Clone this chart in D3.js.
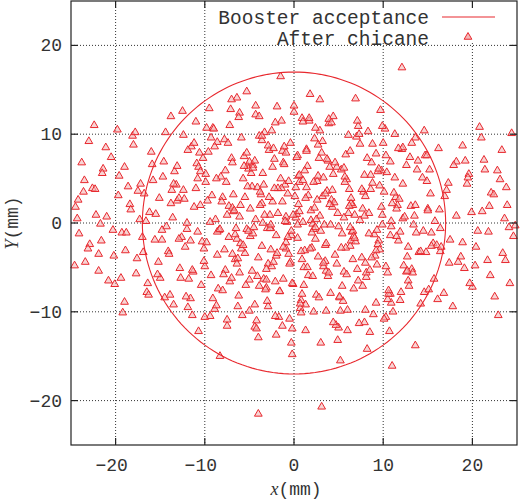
<!DOCTYPE html>
<html><head><meta charset="utf-8">
<script src="https://cdn.jsdelivr.net/npm/d3@7"></script>
<style>body{margin:0;background:#fff}</style></head>
<body><svg id="c" width="520" height="499"></svg>
<script>
const xTicks=[-20,-10,0,10,20];
const yTicks=[-20,-10,0,10,20];
const acceptanceRadius=17;
const legendLabels=["Booster acceptance","After chicane"];
const ptsX=[12.1,-4.0,3.1,-1.5,-5.3,-6.4,-7.0,-4.3,1.8,-9.5,9.7,-12.5,
-24.5,-23.8,-24.1,-22.6,-21.9,-23.0,-24.6,-22.2,-21.4,-20.8,-23.5,-22.9,-24.2,-21.1,-20.3,-19.6,-19.0,-18.4,-19.8,-18.9,-20.5,-17.7,-18.1,-17.3,-16.8,-19.2,-20.1,-21.6,-22.4,-16.5,-15.9,-17.0,-18.6,
23.9,24.6,22.8,21.7,23.3,24.2,22.1,21.0,20.4,23.6,22.5,24.8,21.3,20.0,19.4,18.7,20.8,19.9,18.2,17.8,19.1,21.9,22.9,23.1,18.9,17.5,16.9,20.6,19.6,24.4,
-15.2,-14.6,-13.9,-13.1,-12.4,-11.8,-11.0,-10.3,-9.6,-8.9,-8.2,-7.5,-6.8,-6.1,-5.4,-4.7,-4.0,-3.3,-2.6,-1.9,-1.2,-0.5,0.2,0.9,1.6,2.3,3.0,3.7,4.4,5.1,5.8,6.5,7.2,7.9,8.6,9.3,10.0,10.7,11.4,12.1,12.8,13.5,14.2,14.9,15.6,16.3,
-15.5,-14.1,-13.4,-12.0,-11.3,-10.6,-9.2,-8.5,-7.8,-6.4,-5.7,-5.0,-3.6,-2.9,-2.2,-0.8,-0.1,0.6,2.0,2.7,3.4,4.8,5.5,6.2,7.6,8.3,9.0,10.4,11.1,11.8,13.2,13.9,14.6,15.3,16.0,
-14.8,-13.7,-12.7,-11.5,-10.1,-9.9,-8.7,-7.3,-6.6,-5.2,-4.5,-3.9,-3.1,-2.4,-1.7,-1.0,-0.3,0.4,1.1,1.9,2.5,3.2,3.9,4.6,5.3,6.0,6.8,7.4,8.1,8.8,9.5,10.2,10.9,11.6,12.3,13.0,13.7,14.4,15.1,15.8,
-15.8,-14.3,-12.9,-11.6,-10.9,-9.8,-8.6,-7.7,-6.9,-6.2,-5.5,-4.8,-4.2,-3.5,-2.8,-2.1,-1.4,-0.7,0.0,0.7,1.4,2.1,2.8,3.5,4.2,4.9,5.6,6.3,7.0,7.7,8.4,9.1,9.8,10.5,11.2,11.9,12.6,13.3,14.0,14.7,15.4,
-13.2,-11.9,-10.5,-9.1,-7.9,-6.7,-5.9,-5.1,-4.4,-3.7,-3.0,-2.3,-1.6,-0.9,-0.2,0.5,1.2,1.7,2.4,3.1,3.8,4.5,5.2,5.9,6.6,7.3,8.0,8.7,9.4,10.1,10.8,11.5,12.2,12.9,13.6,
-12.2,-10.8,-9.4,-8.0,-7.1,-6.3,-5.6,-4.9,-4.1,-3.4,-2.7,-2.0,-1.3,-0.6,0.1,0.8,1.5,2.2,2.9,3.6,4.3,5.0,5.7,6.4,7.1,7.8,8.5,9.2,9.9,10.6,11.3,12.7,
-16.2,-15.0,-13.5,-12.6,-11.2,-10.0,-8.8,-7.4,-6.0,-4.6,-3.2,-1.8,-0.4,1.0,2.4,3.8,5.2,6.6,8.0,9.4,10.8,12.2,13.6,15.0,16.4,
-9.0,-7.2,-5.8,-4.3,-2.5,-1.1,0.3,1.3,2.6,4.1,5.4,6.9,8.2,9.6,11.0,
-8.3,-6.5,-4.6,-2.9,-0.9,0.8,2.7,4.7,6.7,8.9,10.3,
-5.0,-2.0,1.0,3.5,6.1,-10.2,-7.6,8.1,11.7,-3.8,4.0,
-14.5,-12.3,-10.7,-8.4,-6.1,-3.6,-1.2,1.4,3.9,6.3,8.6,10.9,13.1,15.2,
-13.8,-11.4,-9.3,-6.9,-4.4,-2.1,0.4,2.9,5.6,7.9,10.3,12.6,14.8,
-11.0,-8.6,-5.3,-2.6,0.6,3.3,6.4,9.2,12.0,
-7.0,-3.1,1.9,5.8,9.9,-0.2,
-17.5,-16.4,-18.0,-16.9,-17.8,16.8,17.3,16.5,17.9,18.4,-19.3,-18.7,19.2,18.6,-20.6,21.2,-23.2,23.0];
const ptsY=[17.5,-21.5,-20.7,16.5,14.8,14.1,13.9,13.2,14.5,12.9,12.7,12.6,
1.8,6.8,-1.2,3.9,-3.5,9.2,-4.8,0.9,6.1,-6.5,4.8,-2.4,2.6,8.5,-0.8,5.3,-8.9,2.1,10.5,-3.1,7.4,-5.7,9.8,0.4,3.3,-10.1,-6.9,-2.0,11.0,-7.8,6.6,-1.6,4.1,
2.0,-1.5,5.9,-4.2,8.2,-6.8,3.4,9.6,-2.7,0.5,-8.3,-0.3,7.1,-7.2,4.4,-3.8,10.8,1.2,6.9,-9.4,-5.1,1.9,-10.4,4.9,8.7,-1.9,3.0,-0.9,5.5,10.1,
-4.4,6.9,-8.1,2.5,9.9,-6.3,11.4,-2.1,8.0,-9.7,5.2,-11.6,1.3,12.4,-7.0,4.1,-12.9,10.2,-3.0,13.1,6.8,-10.8,0.6,11.8,-5.9,9.5,-13.5,3.6,12.0,-8.4,7.7,-1.0,10.9,-11.2,5.4,-4.7,9.0,-12.2,2.9,8.3,-6.5,0.8,-9.1,4.7,-2.3,1.5,
1.0,-3.2,5.8,-0.7,-5.5,7.9,3.1,-7.4,9.4,-1.8,5.0,-9.9,2.2,-4.6,7.2,0.1,-6.9,4.6,-2.8,8.8,-0.2,6.3,-8.8,3.8,-3.9,10.3,-1.3,5.7,-10.0,2.7,-5.2,7.0,-7.8,3.3,-2.5,
-1.9,3.7,-6.2,8.6,-2.9,5.5,-9.3,1.9,-4.1,6.4,-0.5,9.8,-7.3,2.4,-10.6,4.3,-1.4,7.6,-5.0,0.3,-8.1,3.0,11.2,-3.6,6.0,-12.1,0.9,8.9,-6.1,4.5,-2.0,10.6,-9.0,2.0,-4.8,7.4,-1.1,5.1,-7.5,0.2,
4.8,-0.4,2.8,-8.5,6.7,-2.2,9.1,-5.3,1.7,11.9,-3.4,5.6,-11.0,0.0,8.2,-6.6,3.9,-1.6,12.5,-9.6,4.0,-0.1,7.3,-4.3,2.6,-13.2,6.2,-2.6,9.7,-7.1,1.1,-3.7,5.9,-8.6,3.4,-1.0,6.5,-5.6,
-3.3,7.6,-1.1,4.3,-9.5,2.0,10.7,-5.8,1.4,-2.9,6.1,-11.7,3.2,-0.6,8.4,-7.7,0.7,-14.8,5.3,-3.1,11.5,-1.8,7.9,-6.0,2.3,-9.9,4.9,-0.9,10.0,-4.5,6.8,-2.4,3.5,-8.0,1.6,
0.5,-7.1,9.6,-2.7,5.0,-10.5,2.9,12.8,-4.0,7.5,-1.5,4.0,-6.3,0.9,-12.6,8.1,-3.5,3.0,-8.7,6.4,-0.7,10.4,-5.4,1.8,-11.8,5.2,-2.0,
-5.2,3.5,-12.3,7.8,-0.2,-8.0,10.0,-3.8,1.2,-6.2,4.4,-1.6,9.0,-4.9,0.4,
9.0,-2.3,6.5,-7.5,3.9,-4.4,11.4,-0.5,7.0,-15.5,2.0,-9.8,5.8,-1.4,8.5,-13.8,1.6,-3.2,10.6,-6.6,
-10.4,12.2,-4.9,8.6,1.0,-9.2,4.7,-7.9,
-1.2,14.0,-14.2,-3.0,-16.1,-15.0,-0.6,6.2,-9.4,-2.9,
-10.1,5.3,-11.5,-1.5,-10.3,-10.6,6.9,-3.7,4.8,-2.5,1.1,
7.3,4.6,-5.6,-2.0,3.5,2.1,-8.4,2.7,-12.2,-0.8,
-5.6,9.3,-6.3,8.3,11.7,
-0.5,3.8,0.2,1.9,6.0,12.0,-10.4,9.6,
-3.5,-9.2,11.3,-0.2,13.9,-5.5,
0.8,7.6,-5.5,-3.3,3.9,-1.0,
-0.7,-0.6,5.4,-4.9,2.2,-3.1,-7.8,7.3,-6.4,1.4,-2.8,0.9,-11.9,3.6,-6.8,8.8,-3.3,10.2,-7.9,4.5,-2.7,6.5,-4.4,-1.1];
const extraPts=[
[-1.3,2.4],[0.4,-1.7],[1.6,3.1],[-2.7,-0.6],[2.9,0.8],[-0.6,4.7],[0.9,-4.1],[-3.8,2.0],[3.6,-2.3],[-1.9,-3.4],
[1.2,5.9],[-4.6,-1.2],[4.3,3.7],[-2.4,6.3],[2.1,-6.0],[-5.2,4.1],[5.0,-0.4],[-0.2,-6.8],[0.3,7.4],[-6.1,0.7],
[6.2,1.9],[-3.1,-5.2],[3.3,5.1],[-1.0,0.2],[1.8,-2.9],[-4.0,-3.9],[4.8,-4.6],[-5.7,-2.5],[5.7,4.6],[-2.2,3.9],
[2.6,2.6],[-0.9,-2.2],[0.6,1.3],[-3.5,5.6],[3.9,-5.6],[-6.8,3.2],[6.9,-2.1],[-7.3,-1.6],[7.4,0.3],[-1.6,-7.7],
[1.4,8.1],[-4.4,7.0],[4.6,6.8],[-5.0,-6.4],[5.4,-7.1],[-8.1,2.4],[8.0,3.0],[-8.6,-3.6],[8.7,-3.9],[-0.4,9.0],
[0.7,-9.1],[-2.9,8.7],[2.8,-8.4],[-7.7,5.9],[7.9,5.4],[-7.0,-6.2],[7.2,-6.5],[-9.4,0.1],[9.3,-0.8],[-9.9,4.6],
[9.6,4.2],[-10.1,-4.3],[10.3,-4.9],[-3.3,0.9],[3.0,-0.9],[-1.5,5.0],[1.5,-5.0],[-4.9,1.6],[4.9,1.1],[-2.0,-1.4],
[2.3,1.7],[-0.7,3.3],[0.8,-3.2],[-5.5,2.9],[5.3,-2.8],[-6.4,-4.6],[6.6,-4.1],[-3.9,-7.1],[3.7,7.2],[-11.2,1.8],
[11.0,2.2],[-11.6,-2.0],[11.5,-1.5],[-10.7,6.3],[10.8,6.9],[-10.4,-7.0],[10.6,-7.6],[-12.4,3.7],[12.2,4.4],[-12.8,-5.1],
[12.7,-5.4],[-13.6,0.6],[13.4,-0.2],[-13.1,6.4],[13.8,6.0],[-14.0,-3.5],[14.2,-3.2],[-8.9,8.6],[8.8,8.9],[-9.1,-8.5],
[9.2,-9.0],[-5.9,9.6],[6.1,9.9],[-6.3,-9.4],[6.0,-9.8],[-2.5,10.4],[2.4,10.7],[-2.1,-10.5],[2.2,-10.0],[-15.1,2.8],
[15.0,1.4],[-15.6,-1.9],[15.4,-2.6],[-14.7,5.2],[14.9,7.6],[-15.3,-5.8],[15.7,-6.3],[-16.6,0.2],[16.4,-0.6],[-17.2,4.4],
[17.1,3.7],[-17.6,-4.0],[17.4,-4.5],[-18.3,1.5],[18.2,0.8],[-18.8,-1.1],[18.9,-2.2],[-19.7,3.1],[19.5,5.1],[-20.2,-3.7],
[20.3,-4.8],[-21.0,0.7],[21.1,1.3],[-21.7,-0.1],[21.8,-1.0],[-22.3,3.8],[22.4,3.2],[-23.1,-2.9],[23.4,-3.4],[-24.3,0.5],
[24.1,-0.5],[-0.1,0.9],[1.0,0.1],[-1.8,1.1],[2.0,-1.1],[-2.8,2.9],[2.7,-3.8],[-3.6,-2.6],[3.5,3.3],[-4.3,0.4],
[4.1,-0.2],[-5.1,-0.9],[5.6,0.6],[-6.0,2.0],[6.4,2.8],[-6.6,-1.3],[6.8,-1.7],[-7.5,0.9],[7.7,1.6],[-8.3,-0.7],
[8.4,-1.2],[-9.7,2.5],[9.8,1.8],[-10.8,-1.0],[10.9,-0.4],[-0.5,-4.6],[0.2,4.0],[-1.1,6.6],[1.1,-7.0],[-3.0,-8.8],
[3.2,9.2],[-4.7,-5.4],[4.4,5.5],[-5.6,6.4],[5.9,-5.8],[-7.8,-3.0],[7.6,3.8],[-8.7,5.0],[8.5,-5.3],[-11.9,8.2],
[11.7,8.4],[-12.1,-8.3],[11.9,-8.7],[-13.5,-9.2],[13.2,9.0],[-14.4,10.2],[14.6,10.4],[-16.0,8.0],[16.2,8.4],[-16.3,-8.1],
[16.1,-8.6],[-19.0,6.3],[19.2,7.0],[-19.4,-6.2],[19.7,-6.8],[-21.5,5.6],[21.4,6.0],[-21.9,-5.4],[22.0,-5.9],[-23.6,3.5],
[23.8,4.0],[-23.4,-4.4],[23.7,-4.2],[-1.4,11.5],[1.7,11.8],[-3.9,12.0],[4.2,11.3],[-1.3,-11.6],[1.3,-12.1],[-4.2,-11.9],
[4.4,-11.2],[-7.2,11.0],[7.1,11.5],[-7.5,-10.9],[7.3,-11.3],[0.0,13.2],[-0.3,-13.5],[-9.8,10.7],[9.9,10.9],[-10.0,-10.6],
[10.1,-10.8],[-2.6,-0.2],[2.5,0.4],[-0.3,-0.9],[0.5,2.1],[-1.2,-2.7],[1.3,2.8],[-2.3,-4.4],[2.2,4.6],[-3.4,4.3],
[3.3,-4.5],[-4.1,-6.0],[4.0,6.3],[-6.9,6.8],[6.7,-7.4],[-5.3,7.9],[5.1,-8.3],[-8.0,-7.6],[8.2,7.3],[-12.0,0.0],
[12.4,0.7],[-12.9,-1.8],[12.8,-2.7],[-13.8,2.2],[13.6,2.0],[-14.8,-0.8],[14.5,-0.9],[-9.3,-5.9],[9.5,6.1],[-10.5,5.8],
[10.5,-5.6],[-11.4,-5.3],[11.3,5.1],[-0.9,7.9],[0.9,-8.0],[-6.2,-8.2],[6.3,8.1],[-3.6,9.8],[3.6,-9.9]];
const pts=ptsX.map((x,i)=>[x,ptsY[i]]).filter(d=>d[1]!==undefined).concat(extraPts);

const svg=d3.select("#c");
const L=71,R=517,T=1,B=445;
const x=d3.scaleLinear().domain([-25,25]).range([L,R]);
const y=d3.scaleLinear().domain([-25,25]).range([B,T]);
const font="'Liberation Mono','DejaVu Sans Mono',monospace";
const red="#e8282e";
svg.append("g").selectAll("line").data(xTicks).join("line")
 .attr("x1",d=>x(d)).attr("x2",d=>x(d)).attr("y1",T).attr("y2",B)
 .attr("stroke","#333").attr("stroke-dasharray","1,2").attr("stroke-width",1);
svg.append("g").selectAll("line").data(yTicks).join("line")
 .attr("y1",d=>y(d)).attr("y2",d=>y(d)).attr("x1",L).attr("x2",R)
 .attr("stroke","#333").attr("stroke-dasharray","1,2").attr("stroke-width",1);
const tri=d3.symbol().type(d3.symbolTriangle).size(26);
svg.append("g").selectAll("path").data(pts).join("path")
 .attr("d",tri).attr("transform",d=>`translate(${x(d[0])},${y(d[1])})`)
 .attr("fill","#f4b8b8").attr("fill-opacity",0.6).attr("stroke",red).attr("stroke-width",1);
const circ=d3.range(0,361,2).map(a=>[acceptanceRadius*Math.cos(a*Math.PI/180),acceptanceRadius*Math.sin(a*Math.PI/180)]);
svg.append("path").datum(circ).attr("d",d3.line().x(d=>x(d[0])).y(d=>y(d[1])))
 .attr("fill","none").attr("stroke",red).attr("stroke-width",1.1);
svg.append("rect").attr("x",208).attr("y",T+1).attr("width",R-210).attr("height",41).attr("fill","#fff");
svg.append("text").attr("x",429).attr("y",24).attr("text-anchor","end").attr("font-family",font).attr("font-size",19.5).attr("fill","#333").text(legendLabels[0]);
svg.append("text").attr("x",429).attr("y",45).attr("text-anchor","end").attr("font-family",font).attr("font-size",19.5).attr("fill","#333").text(legendLabels[1]);
svg.append("line").attr("x1",442).attr("x2",495).attr("y1",17).attr("y2",17).attr("stroke",red).attr("stroke-width",1.1);
svg.append("path").attr("d",tri).attr("transform","translate(468,37)").attr("fill","#f4b8b8").attr("stroke",red).attr("stroke-width",1);
svg.append("rect").attr("x",L).attr("y",T).attr("width",R-L).attr("height",B-T).attr("fill","none").attr("stroke","#222").attr("stroke-width",1.2);
const tk=svg.append("g").attr("stroke","#222").attr("stroke-width",1.2);
xTicks.forEach(t=>{tk.append("line").attr("x1",x(t)).attr("x2",x(t)).attr("y1",B).attr("y2",B-7);tk.append("line").attr("x1",x(t)).attr("x2",x(t)).attr("y1",T).attr("y2",T+7);});
yTicks.forEach(t=>{tk.append("line").attr("y1",y(t)).attr("y2",y(t)).attr("x1",L).attr("x2",L+7);tk.append("line").attr("y1",y(t)).attr("y2",y(t)).attr("x1",R).attr("x2",R-7);});
svg.append("g").selectAll("text").data(xTicks).join("text").attr("x",d=>x(d)+(d<0?-4:0)).attr("y",471).attr("text-anchor","middle")
 .attr("font-family",font).attr("font-size",18).attr("fill","#333").text(d=>d<0?"\u2212"+(-d):d);
svg.append("g").selectAll("text").data(yTicks).join("text").attr("x",62).attr("y",d=>y(d)+6).attr("text-anchor","end")
 .attr("font-family",font).attr("font-size",18).attr("fill","#333").text(d=>d<0?"\u2212"+(-d):d);
const xl=svg.append("text").attr("x",296).attr("y",495).attr("text-anchor","middle").attr("font-family",font).attr("font-size",18).attr("fill","#333");
xl.append("tspan").attr("font-style","italic").attr("font-family","'Liberation Serif',serif").text("x");xl.append("tspan").text("(mm)");
const yl=svg.append("text").attr("transform","translate(18,223) rotate(-90)").attr("text-anchor","middle").attr("font-family",font).attr("font-size",18).attr("fill","#333");
yl.append("tspan").attr("font-style","italic").attr("font-family","'Liberation Serif',serif").text("Y");yl.append("tspan").text("(mm)");
</script></body></html>
